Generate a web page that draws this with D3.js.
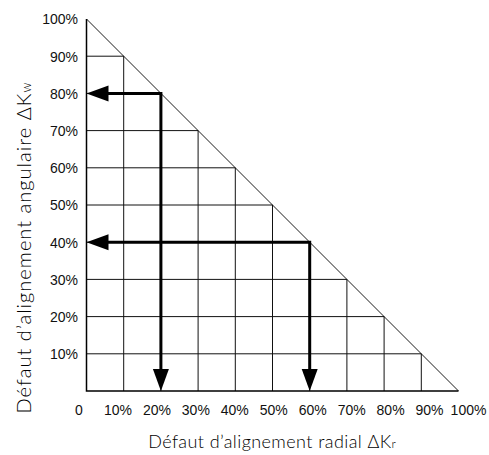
<!DOCTYPE html>
<html>
<head>
<meta charset="utf-8">
<script src="https://cdn.jsdelivr.net/npm/d3@7"></script>
<style>
  body { margin: 0; background: #fff; }
  svg { display: block; }
</style>
</head>
<body>
<svg width="489" height="455"></svg>
<script>
// grid steps (percent) and their labels
const gridSteps = [10, 20, 30, 40, 50, 60, 70, 80, 90];
const xTickValues = [0, 10, 20, 30, 40, 50, 60, 70, 80, 90, 100];
const xTickLabels = ['0', '10%', '20%', '30%', '40%', '50%', '60%', '70%', '80%', '90%', '100%'];
const yTickValues = [10, 20, 30, 40, 50, 60, 70, 80, 90, 100];
const yTickLabels = ['10%', '20%', '30%', '40%', '50%', '60%', '70%', '80%', '90%', '100%'];

// the two example readings drawn with arrows
const radialValues = [20, 60];
const angularValues = [80, 40];

const x = d3.scaleLinear().domain([0, 100]).range([86.5, 458.5]);
const y = d3.scaleLinear().domain([0, 100]).range([391, 19]);
// tick labels under the axis are spread a bit wider than the grid
const xLab = d3.scaleLinear().domain([0, 100]).range([x(0) - 7.5, x(100) + 10]);

const svg = d3.select('svg');
const labelFont = '"Liberation Sans", Arial, sans-serif';
const titleFont = 'Lato, "Noto Sans", sans-serif';

// grid, clipped to the triangle
svg.append('g').selectAll('line.v')
    .data(gridSteps)
    .enter()
    .append('line')
    .attr('x1', d => x(d)).attr('x2', d => x(d))
    .attr('y1', y(0)).attr('y2', d => y(100 - d))
    .attr('stroke', '#111').attr('stroke-width', 1);

svg.append('g').selectAll('line.h')
    .data(gridSteps)
    .enter()
    .append('line')
    .attr('x1', x(0)).attr('x2', d => x(100 - d))
    .attr('y1', d => y(d)).attr('y2', d => y(d))
    .attr('stroke', '#111').attr('stroke-width', 1);

// axes + diagonal
svg.append('path')
    .attr('d', `M${x(0)},${y(100)} L${x(0)},${y(0)} L${x(100)},${y(0)}`)
    .attr('fill', 'none').attr('stroke', '#000').attr('stroke-width', 1.5);
svg.append('line')
    .attr('x1', x(0)).attr('y1', y(100))
    .attr('x2', x(100)).attr('y2', y(0))
    .attr('stroke', '#000').attr('stroke-width', 0.9);

// reading arrows
const headLen = 22, headW = 16;
const arrows = svg.append('g');
radialValues.forEach((r, i) => {
    const a = angularValues[i];
    arrows.append('path')
        .attr('d', `M${x(0) + headLen - 2},${y(a)} L${x(r)},${y(a)} L${x(r)},${y(0) - headLen + 2}`)
        .attr('fill', 'none').attr('stroke', '#000')
        .attr('stroke-width', 3).attr('stroke-linejoin', 'miter');
    // left head
    arrows.append('path')
        .attr('d', `M${x(0)},${y(a)} L${x(0) + headLen},${y(a) - headW / 2} L${x(0) + headLen},${y(a) + headW / 2}Z`)
        .attr('fill', '#000');
    // down head
    arrows.append('path')
        .attr('d', `M${x(r)},${y(0)} L${x(r) - headW / 2},${y(0) - headLen} L${x(r) + headW / 2},${y(0) - headLen}Z`)
        .attr('fill', '#000');
});

// tick labels
svg.append('g').selectAll('text')
    .data(xTickValues)
    .enter()
    .append('text')
    .attr('x', d => xLab(d))
    .attr('y', 415)
    .attr('text-anchor', 'middle')
    .attr('font-family', labelFont).attr('font-size', 14)
    .attr('fill', '#111')
    .text((d, i) => xTickLabels[i]);

svg.append('g').selectAll('text')
    .data(yTickValues)
    .enter()
    .append('text')
    .attr('x', 78)
    .attr('y', d => y(d))
    .attr('dy', '0.38em')
    .attr('text-anchor', 'end')
    .attr('font-family', labelFont).attr('font-size', 14)
    .attr('fill', '#111')
    .text((d, i) => yTickLabels[i]);

// axis titles
const xt = svg.append('text')
    .attr('x', 272).attr('y', 448)
    .attr('text-anchor', 'middle')
    .attr('font-family', titleFont).attr('font-size', 18).attr('font-weight', 300)
    .attr('fill', '#000');
xt.append('tspan').attr('textLength', 243).attr('lengthAdjust', 'spacing').text('Défaut d’alignement radial ΔK');
xt.append('tspan').attr('font-size', 12).text('r');

const yt = svg.append('text')
    .attr('transform', 'translate(31,248) rotate(-90)')
    .attr('text-anchor', 'middle')
    .attr('font-family', titleFont).attr('font-size', 20).attr('font-weight', 300)
    .attr('fill', '#000');
yt.append('tspan').attr('textLength', 320).attr('lengthAdjust', 'spacing').text('Défaut d’alignement angulaire ΔK');
yt.append('tspan').attr('font-size', 13).text('w');
</script>
</body>
</html>
